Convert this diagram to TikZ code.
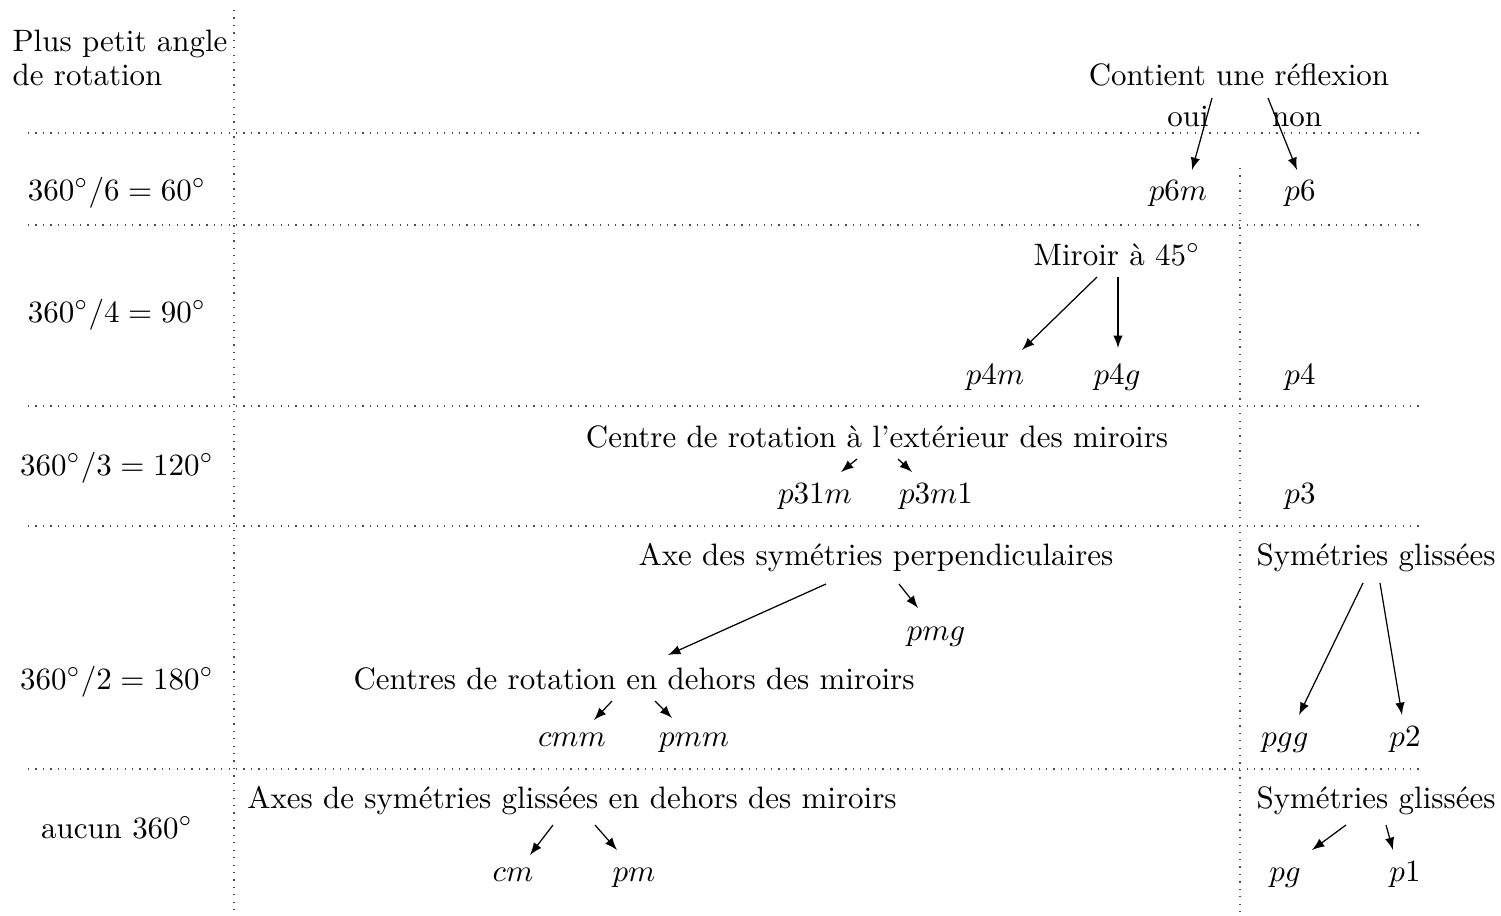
\documentclass[tikz,border=0pt]{standalone}
\usetikzlibrary{arrows}
\begin{document}
\begin{tikzpicture}[x=0.3230pt,y=-0.3230pt,
  lbl/.style={anchor=base,inner sep=0pt},
  arr/.style={-latex},
  grid/.style={dotted,draw=black!70}]
\useasboundingbox (0,0) rectangle (1501,915);
% grid
\coordinate (vl1) at (234,10);  \coordinate (vl2) at (234,915);
\coordinate (vr1) at (1240,168); \coordinate (vr2) at (1240,915);
\draw[grid] (vl1) -- (vl2);
\draw[grid] (vr1) -- (vr2);
\foreach \yy in {133,225,406,526,769}{
  \draw[grid] (28,\yy) -- (1420,\yy);
}
% header
\node[anchor=north west,inner sep=0pt,align=left] (hdr) at (12,29) {Plus petit angle\\[-0.8pt]de rotation};
% row labels
\node[lbl] (r6) at (117,200) {$360^\circ/6 = 60^\circ$};
\node[lbl] (r4) at (117,322) {$360^\circ/4 = 90^\circ$};
\node[lbl] (r3) at (117,475) {$360^\circ/3 = 120^\circ$};
\node[lbl] (r2) at (117,689) {$360^\circ/2 = 180^\circ$};
\node[lbl] (r1) at (117,838) {aucun $360^\circ$};
% questions
\node[lbl] (C) at (1239,85) {Contient une réflexion};
\node[lbl] (oui) at (1188,126) {oui};
\node[lbl] (non) at (1297,126) {non};
\node[lbl] (M) at (1117,265) {Miroir à $45^\circ$};
\node[lbl] (CR) at (877,447) {Centre de rotation à l'extérieur des miroirs};
\node[lbl] (AP) at (876,565) {Axe des symétries perpendiculaires};
\node[lbl] (Cen) at (634,689) {Centres de rotation en dehors des miroirs};
\node[lbl] (SGa) at (1376,565) {Symétries glissées};
\node[lbl] (Ax) at (572,808) {Axes de symétries glissées en dehors des miroirs};
\node[lbl] (SGb) at (1376,808) {Symétries glissées};
% groups
\node[lbl] (p6m) at (1178,200) {$p6m$};
\node[lbl] (p6) at (1300,200) {$p6$};
\node[lbl] (p4m) at (995,384) {$p4m$};
\node[lbl] (p4g) at (1117,384) {$p4g$};
\node[lbl] (p4) at (1300,384) {$p4$};
\node[lbl] (p31m) at (815,503) {$p31m$};
\node[lbl] (p3m1) at (936,503) {$p3m1$};
\node[lbl] (p3) at (1300,503) {$p3$};
\node[lbl] (pmg) at (936,640) {$pmg$};
\node[lbl] (cmm) at (572,746) {$cmm$};
\node[lbl] (pmm) at (694,746) {$pmm$};
\node[lbl] (pgg) at (1285,746) {$pgg$};
\node[lbl] (p2) at (1405,746) {$p2$};
\node[lbl] (cm) at (513,881) {$cm$};
\node[lbl] (pm) at (634,881) {$pm$};
\node[lbl] (pg) at (1285,881) {$pg$};
\node[lbl] (p1) at (1405,881) {$p1$};
% arrows
\draw[arr] ([shift={(-27,13)}]C.base) -- ([shift={(14,-30)}]p6m.base);
\draw[arr] ([shift={(29,13)}]C.base) -- ([shift={(-3,-30)}]p6.base);
\draw[arr] ([shift={(-20,12)}]M.base) -- ([shift={(27,-34)}]p4m.base);
\draw[arr] ([shift={(1,12)}]M.base) -- ([shift={(1,-36)}]p4g.base);
\draw[arr] ([shift={(-20,12)}]CR.base) -- ([shift={(26,-31)}]p31m.base);
\draw[arr] ([shift={(21,12)}]CR.base) -- ([shift={(-24,-31)}]p3m1.base);
\draw[arr] ([shift={(-50,19)}]AP.base) -- ([shift={(34,-34)}]Cen.base);
\draw[arr] ([shift={(23,19)}]AP.base) -- ([shift={(-18,-32)}]pmg.base);
\draw[arr] ([shift={(-22,12)}]Cen.base) -- ([shift={(22,-26)}]cmm.base);
\draw[arr] ([shift={(21,12)}]Cen.base) -- ([shift={(-22,-28)}]pmm.base);
\draw[arr] ([shift={(-13,18)}]SGa.base) -- ([shift={(14,-31)}]pgg.base);
\draw[arr] ([shift={(4,18)}]SGa.base) -- ([shift={(-3,-31)}]p2.base);
\draw[arr] ([shift={(-19,17)}]Ax.base) -- ([shift={(17,-26)}]cm.base);
\draw[arr] ([shift={(23,17)}]Ax.base) -- ([shift={(-17,-31)}]pm.base);
\draw[arr] ([shift={(-30,17)}]SGb.base) -- ([shift={(27,-31)}]pg.base);
\draw[arr] ([shift={(10,17)}]SGb.base) -- ([shift={(-12,-31)}]p1.base);
\end{tikzpicture}
\end{document}
